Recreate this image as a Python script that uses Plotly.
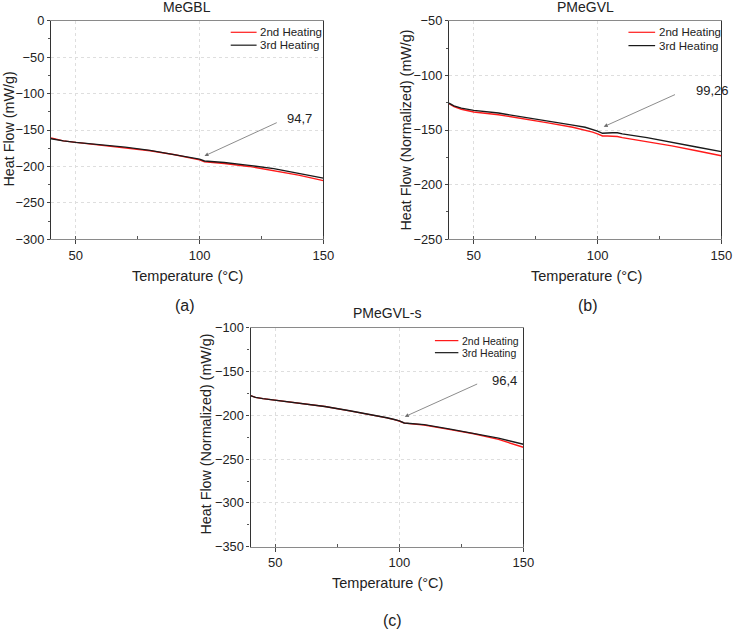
import plotly.graph_objects as go

# ---------------- data ----------------
temp = [40, 42, 45, 50, 60, 70, 80, 90, 95, 98, 100, 102, 104, 106, 108, 110, 120, 130, 140, 150]

a_2nd = [-161, -163, -165, -167, -170.5, -174, -178.5, -184, -187, -189.5, -191, -193.5, -194, -194.5, -195, -196, -200, -205.5, -212, -219.5]
a_3rd = [-162, -163.5, -165, -167, -170, -173.5, -178, -183.5, -186.5, -188.5, -190, -192.5, -193, -193, -193.5, -194.5, -198.5, -203, -209.5, -216]

b_2nd = [-126, -128.5, -131, -133.5, -136, -139.5, -143.5, -147.5, -150, -152, -153.5, -155.5, -155.5, -155.5, -156, -157, -160.5, -164.5, -169, -173.5]
b_3rd = [-125.5, -128, -130, -132, -134.5, -138, -141.5, -145.5, -147.5, -149.5, -151, -153, -152.5, -152.5, -152.5, -153.5, -157, -161, -165.5, -169.8]

c_2nd = [-177.5, -179.5, -181, -182.8, -186, -190, -195, -200, -203, -205, -206.5, -209, -209.5, -210, -210.3, -211, -216, -221, -227.5, -236.5]
c_3rd = [-177.5, -179.5, -181, -182.8, -186, -190, -194.8, -199.8, -202.8, -204.8, -206.3, -208.8, -209.2, -209.6, -210, -210.6, -215.5, -220.5, -226, -233]

panel_titles = ["MeGBL", "PMeGVL", "PMeGVL-s"]
y_titles = ["Heat Flow (mW/g)", "Heat Flow (Normalized) (mW/g)", "Heat Flow (Normalized) (mW/g)"]
x_title = "Temperature (°C)"
y_ranges = [[-300, 0], [-250, -50], [-350, -100]]
x_range = [40, 150]
x_ticks = [50, 100, 150]
series_names = ["2nd Heating", "3rd Heating"]
tg_labels = ["94,7", "99,26", "96,4"]
tg_head = [(102, -185.6), (102.5, -147), (102.2, -201.6)]
tg_tail = [(131.8, -139), (131.9, -117), (132, -163.5)]
tg_text = [(134.7, -134.8), (138.9, -113.4), (136.5, -159.7)]
panel_letters = ["(a)", "(b)", "(c)"]

# ---------------- layout geometry ----------------
W, H = 734, 629
FONT = "Liberation Sans, Arial, sans-serif"
TXT = "#222222"
px_boxes = [  # left, right, top, bottom in pixels
    (51, 323.3, 20.7, 239.3),
    (449, 721.3, 20.7, 239.3),
    (250.5, 523.3, 327.7, 546.7),
]
# manual legend geometry (axis-domain fractions): line x0, x1, text x, row y's
leg_geo = [
    (0.660, 0.755, 0.762, (0.947, 0.888)),
    (0.659, 0.757, 0.764, (0.947, 0.886)),
    (0.676, 0.762, 0.769, (0.941, 0.886)),
]
letter_px = [(185, 305), (588, 305), (392, 620)]
ytitle_px = [(8.5, 129), (405.5, 130), (205.5, 434)]
xtitle_px = [(187.5, 276), (586, 276), (387.5, 582.5)]
title_px = [(187, 7.5), (585.6, 7.5), (387, 313)]

fig = go.Figure()
data = [(a_2nd, a_3rd), (b_2nd, b_3rd), (c_2nd, c_3rd)]
colors = ["#ff1a1a", "#1a1a1a"]

for i, (s2, s3) in enumerate(data):
    xa = "x" if i == 0 else f"x{i+1}"
    ya = "y" if i == 0 else f"y{i+1}"
    for s, name, col in zip((s2, s3), series_names, colors):
        fig.add_trace(go.Scatter(x=temp, y=s, mode="lines", name=name,
                                 line=dict(color=col, width=1.4),
                                 xaxis=xa, yaxis=ya, showlegend=False))

layout = dict(template="none", width=W, height=H,
              margin=dict(l=0, r=0, t=0, b=0, autoexpand=False),
              paper_bgcolor="white", plot_bgcolor="white", showlegend=False,
              font=dict(family=FONT, color=TXT))

annotations = []
shapes = []


def paper_text(text, px, size, angle=0):
    return dict(text=text, x=px[0] / W, y=1 - px[1] / H, xref="paper", yref="paper",
                xanchor="center", yanchor="middle", showarrow=False, textangle=angle,
                font=dict(size=size, family=FONT, color=TXT))


for i, (l, r, t, b) in enumerate(px_boxes):
    xk = "xaxis" if i == 0 else f"xaxis{i+1}"
    yk = "yaxis" if i == 0 else f"yaxis{i+1}"
    xa = "x" if i == 0 else f"x{i+1}"
    ya = "y" if i == 0 else f"y{i+1}"
    layout[xk] = dict(domain=[l / W, r / W], anchor=ya, range=x_range, automargin=False,
                      tickvals=x_ticks, ticks="outside", ticklen=4, tickcolor="#444",
                      showline=True, linecolor="#8a8a8a", linewidth=1, mirror=True,
                      showgrid=True, gridcolor="#dedede", griddash="dot", gridwidth=1,
                      zeroline=False,
                      minor=dict(ticks="inside", ticklen=3, dtick=25, tick0=0, tickcolor="#555"),
                      tickfont=dict(size=13, family=FONT, color=TXT))
    layout[yk] = dict(domain=[1 - b / H, 1 - t / H], anchor=xa, range=y_ranges[i], automargin=False,
                      dtick=50, ticks="outside", ticklen=3, tickcolor="#444",
                      showline=True, linecolor="#333333", linewidth=1.2, mirror=True,
                      showgrid=True, gridcolor="#dedede", griddash="dot", gridwidth=1,
                      zeroline=False,
                      minor=dict(ticks="outside", ticklen=2, dtick=25, tickcolor="#555"),
                      tickfont=dict(size=12.8, family=FONT, color=TXT))
    annotations.append(paper_text(panel_titles[i], title_px[i], 14))
    annotations.append(paper_text(panel_letters[i], letter_px[i], 16))
    annotations.append(paper_text(x_title, xtitle_px[i], 14.5))
    annotations.append(paper_text(y_titles[i], ytitle_px[i], 14.3, angle=-90))
    # Tg arrow
    annotations.append(dict(x=tg_head[i][0], y=tg_head[i][1], ax=tg_tail[i][0], ay=tg_tail[i][1],
                            xref=xa, yref=ya, axref=xa, ayref=ya, text="", showarrow=True,
                            arrowhead=2, arrowsize=1, arrowwidth=0.8, arrowcolor="#6e6e6e"))
    annotations.append(dict(x=tg_text[i][0], y=tg_text[i][1], xref=xa, yref=ya, text=tg_labels[i],
                            showarrow=False, xanchor="left", yanchor="middle",
                            font=dict(size=13, family=FONT, color=TXT)))
    # legend (line samples + real text labels)
    lx0, lx1, tx, rows = leg_geo[i]
    fs = 11.5 if i < 2 else 10.5
    for name, col, ry in zip(series_names, colors, rows):
        shapes.append(dict(type="line", xref=f"{xa} domain", yref=f"{ya} domain",
                           x0=lx0, x1=lx1, y0=ry, y1=ry, line=dict(color=col, width=1.2)))
        annotations.append(dict(text=name, xref=f"{xa} domain", yref=f"{ya} domain",
                                x=tx, y=ry, xanchor="left", yanchor="middle", showarrow=False,
                                font=dict(size=fs, family=FONT, color=TXT)))

layout["annotations"] = annotations
layout["shapes"] = shapes
fig.update_layout(**layout)
fig.write_html("out.html")
